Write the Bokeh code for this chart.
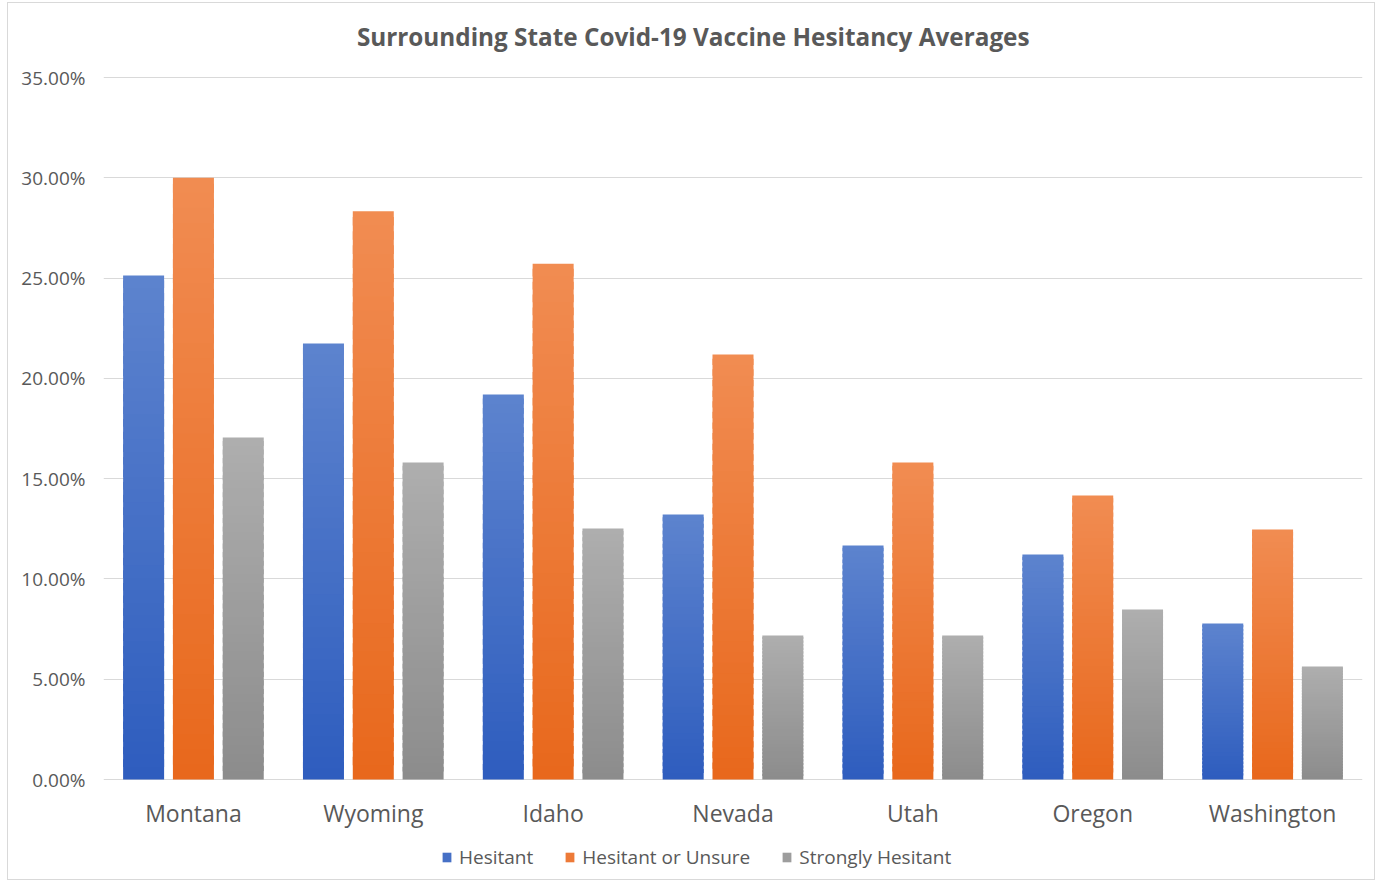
from bokeh.plotting import figure
from bokeh.models import (ColumnDataSource, FactorRange, Range1d, NumeralTickFormatter,
                          Legend, LegendItem, FixedTicker)
from bokeh.core.properties import value
from bokeh.transform import dodge
from bokeh.embed import file_html
from bokeh.resources import INLINE

title_text = "Surrounding  State  Covid-19  Vaccine  Hesitancy  Averages"
states = ["Montana", "Wyoming", "Idaho", "Nevada", "Utah", "Oregon", "Washington"]
hesitant = [25.13, 21.74, 19.19, 13.21, 11.67, 11.22, 7.78]
hesitant_or_unsure = [30.00, 28.33, 25.72, 21.19, 15.80, 14.16, 12.46]
strongly_hesitant = [17.05, 15.80, 12.51, 7.18, 7.18, 8.47, 5.63]
y_ticks = [0.0, 0.05, 0.10, 0.15, 0.20, 0.25, 0.30, 0.35]

series_names = ["Hesitant", "Hesitant or Unsure", "Strongly Hesitant"]
series_values = [hesitant, hesitant_or_unsure, strongly_hesitant]
# (bottom colour, top colour) for the vertical gradient of each series
series_grad = [((46, 93, 190), (93, 131, 206)),
               ((232, 104, 28), (241, 140, 82)),
               ((140, 140, 140), (174, 174, 174))]
offsets = [-0.277, 0.0, 0.277]
BAR_W = 0.228
N_BANDS = 40

FONT = "Open Sans"
TXT = "#595959"

# frame: 702 px for 0..35 %, 74 px above for the title, 100 px below zero for labels/legend
PX_PER_UNIT = 702 / 0.35
Y_TOP = 0.35 + 74 / PX_PER_UNIT
Y_BOTTOM = -100 / PX_PER_UNIT

p = figure(width=1368, height=878, output_backend="svg", toolbar_location=None, title=None,
           x_range=FactorRange(*states, range_padding=0), y_range=Range1d(Y_BOTTOM, Y_TOP),
           min_border_left=95, min_border_right=14, min_border_top=0, min_border_bottom=2)

legend_items = []
for name, vals, (c0, c1), off in zip(series_names, series_values, series_grad, offsets):
    xs, bots, tops, cols = [], [], [], []
    for st, v in zip(states, vals):
        v = v / 100.0
        for i in range(N_BANDS):
            t = (i + 0.5) / N_BANDS
            rgb = tuple(int(round(a + (b - a) * t)) for a, b in zip(c0, c1))
            xs.append(st)
            bots.append(v * i / N_BANDS)
            tops.append(v * min(i + 1.6, N_BANDS) / N_BANDS)
            cols.append("#%02x%02x%02x" % rgb)
    src = ColumnDataSource(dict(state=xs, bottom=bots, top=tops, color=cols))
    r = p.vbar(x=dodge("state", off, range=p.x_range), bottom="bottom", top="top",
               width=BAR_W, fill_color="color", line_color=None, source=src)
    legend_items.append(LegendItem(label=name, renderers=[r], index=N_BANDS // 2))

# category labels under the zero line
cat_src = ColumnDataSource(dict(state=states, y=[0.0] * len(states)))
p.text(x="state", y="y", text="state", source=cat_src, y_offset=33,
       text_align="center", text_baseline="middle", text_font=value(FONT),
       text_font_size="23px", text_color=TXT)

# chart title at the top of the canvas
title_src = ColumnDataSource(dict(x=["Nevada"], y=[Y_TOP], t=[title_text]))
p.text(x="x", y="y", text="t", source=title_src, x_offset=-24, y_offset=33,
       text_align="center", text_baseline="middle", text_font=value(FONT),
       text_font_size="24.3px", text_font_style="bold", text_color=TXT)

p.outline_line_color = None
p.background_fill_color = "white"
p.border_fill_color = "white"

p.xaxis.visible = False
p.xgrid.grid_line_color = None
p.ygrid.ticker = FixedTicker(ticks=y_ticks)
p.ygrid.grid_line_color = "#D9D9D9"
p.ygrid.grid_line_width = 1

p.yaxis.ticker = FixedTicker(ticks=y_ticks)
p.yaxis.formatter = NumeralTickFormatter(format="0.00%")
p.yaxis.axis_line_color = None
p.yaxis.major_tick_line_color = None
p.yaxis.minor_tick_line_color = None
p.yaxis.major_tick_out = 0
p.yaxis.major_label_standoff = 18
p.yaxis.major_label_text_font = FONT
p.yaxis.major_label_text_font_size = "19px"
p.yaxis.major_label_text_color = TXT

legend = Legend(items=legend_items, orientation="horizontal", location=(338, 9),
                label_text_font=FONT, label_text_font_size="19px", label_text_color=TXT,
                glyph_width=11, glyph_height=12, label_standoff=7, spacing=31,
                border_line_color=None, background_fill_alpha=0, padding=4, margin=0)
p.add_layout(legend, "center")

p.styles = {"border": "1px solid #D9D9D9", "margin-left": "7px", "margin-top": "2px"}

open("out.html", "w").write(file_html(p, INLINE))
